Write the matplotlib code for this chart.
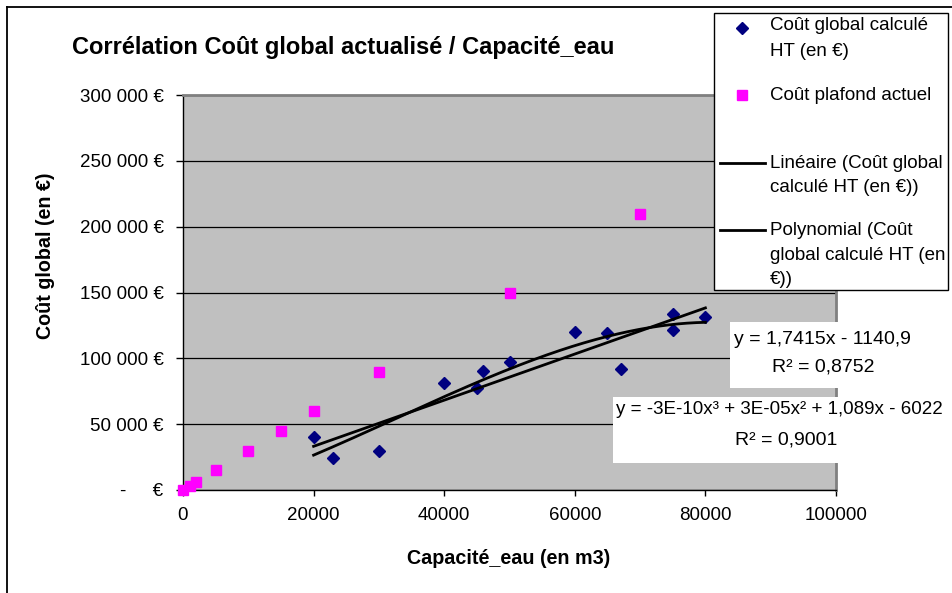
import numpy as np
import matplotlib
matplotlib.use("Agg")
import matplotlib.pyplot as plt
from matplotlib.lines import Line2D
from matplotlib.patches import Rectangle
from matplotlib.ticker import FuncFormatter

plt.rcParams['font.family'] = ['Liberation Sans', 'DejaVu Sans']

# ---- data ----
capacite_calc = [20000, 23000, 30000, 40000, 45000, 46000, 50000, 60000, 65000, 67000, 75000, 75000, 80000]
cout_global = [40500, 24100, 29600, 81500, 77300, 90700, 97500, 120300, 119500, 92200, 133700, 121600, 131700]

capacite_plafond = [0, 1000, 2000, 5000, 10000, 15000, 20000, 30000, 50000, 70000]
cout_plafond = [0, 3000, 6000, 15000, 30000, 45000, 60000, 90000, 150000, 210000]

y_ticks = [0, 50000, 100000, 150000, 200000, 250000, 300000]
x_ticks = [0, 20000, 40000, 60000, 80000, 100000]

title = "Corrélation Coût global actualisé / Capacité_eau"
xlabel = "Capacité_eau (en m3)"
ylabel = "Coût global (en €)"
eq_lin = ["y = 1,7415x - 1140,9", "R² = 0,8752"]
eq_poly = ["y = -3E-10x³ + 3E-05x² + 1,089x - 6022", "R² = 0,9001"]

W, H = 952, 593
fig = plt.figure(figsize=(W / 100, H / 100), dpi=100)
fig.patch.set_facecolor('white')

def fx(p):
    return p / W

def fy(p):
    return 1 - p / H

L, R, T, B = 183, 836, 95, 490
ax = fig.add_axes([fx(L), fy(B), fx(R) - fx(L), fy(T) - fy(B)])
ax.set_facecolor('#C0C0C0')
ax.set_xlim(0, 100000)
ax.set_ylim(0, 300000)
ax.set_xticks(x_ticks)
ax.set_yticks(y_ticks)

def yfmt(v, pos):
    if v == 0:
        return "-     €"
    return f"{v:,.0f}".replace(",", " ") + " €"

ax.yaxis.set_major_formatter(FuncFormatter(yfmt))
ax.xaxis.set_major_formatter(FuncFormatter(lambda v, p: f"{v:.0f}"))
ax.tick_params(axis='y', direction='out', length=5, width=1, pad=9, labelsize=13.5, colors='black')
ax.tick_params(axis='x', direction='out', length=4.5, width=1, pad=8, labelsize=13.5, colors='black')
ax.grid(axis='y', color='black', linewidth=0.9)
ax.set_axisbelow(True)
for s in ['left', 'bottom']:
    ax.spines[s].set_color('black')
    ax.spines[s].set_linewidth(1.0)
for s in ['top', 'right']:
    ax.spines[s].set_color('#808080')
    ax.spines[s].set_linewidth(2.0)

# data points
ax.plot(capacite_plafond, cout_plafond, linestyle='none', marker='s', ms=7,
        color='#FF00FF', mec='#FF00FF', clip_on=False, zorder=3)
ax.plot(capacite_calc, cout_global, linestyle='none', marker='D', ms=6,
        color='#000080', mec='#000080', clip_on=False, zorder=3)

# trendlines
xc = np.array(capacite_calc, dtype=float)
yc = np.array(cout_global, dtype=float)
xs = np.linspace(xc.min(), xc.max(), 300)
p1 = np.polyfit(xc, yc, 1)
p3 = np.polyfit(xc, yc, 3)
ax.plot(xs, np.polyval(p1, xs), color='black', lw=2.0, zorder=4)
ax.plot(xs, np.polyval(p3, xs), color='black', lw=2.0, zorder=4)

# titles
fig.text(fx(72), fy(54), title, fontsize=17, fontweight='bold', ha='left', va='baseline')
fig.text(fx(509), fy(558), xlabel, fontsize=14.2, fontweight='bold', ha='center', va='center')
fig.text(fx(46), fy(256), ylabel, fontsize=14.2, fontweight='bold', ha='center', va='center', rotation=90)

# outer frame (left and top visible)
fig.add_artist(Line2D([fx(7), fx(7)], [fy(7), 0], transform=fig.transFigure, color='black', lw=1.3))
fig.add_artist(Line2D([fx(7), 1], [fy(7), fy(7)], transform=fig.transFigure, color='black', lw=1.3))

# equation boxes
fig.add_artist(Rectangle((fx(730), fy(388)), fx(950) - fx(730), fy(322) - fy(388),
                         transform=fig.transFigure, facecolor='white', edgecolor='none', zorder=5))
fig.add_artist(Rectangle((fx(613), fy(463)), fx(950) - fx(613), fy(397) - fy(463),
                         transform=fig.transFigure, facecolor='white', edgecolor='none', zorder=5))
fig.text(fx(822), fy(340), eq_lin[0], fontsize=14, ha='center', va='center', zorder=6)
fig.text(fx(823), fy(367), eq_lin[1], fontsize=14, ha='center', va='center', zorder=6)
fig.text(fx(616), fy(410), eq_poly[0], fontsize=13.5, ha='left', va='center', zorder=6)
fig.text(fx(786), fy(440), eq_poly[1], fontsize=14, ha='center', va='center', zorder=6)

# legend (drawn as a framed box)
fig.add_artist(Rectangle((fx(714), fy(290)), fx(948) - fx(714), fy(13) - fy(290),
                         transform=fig.transFigure, facecolor='white', edgecolor='black', lw=1.0, zorder=5))
fig.add_artist(Line2D([fx(742)], [fy(28)], transform=fig.transFigure, marker='D', ms=6,
                      color='#000080', linestyle='none', zorder=6))
fig.add_artist(Line2D([fx(742)], [fy(95)], transform=fig.transFigure, marker='s', ms=7,
                      color='#FF00FF', linestyle='none', zorder=6))
fig.add_artist(Line2D([fx(720), fx(765)], [fy(163), fy(163)], transform=fig.transFigure,
                      color='black', lw=2.0, zorder=6))
fig.add_artist(Line2D([fx(720), fx(765)], [fy(230), fy(230)], transform=fig.transFigure,
                      color='black', lw=2.0, zorder=6))
legend_lines = [
    ("Coût global calculé", 26), ("HT (en €)", 52),
    ("Coût plafond actuel", 95),
    ("Linéaire (Coût global", 163), ("calculé HT (en €))", 188),
    ("Polynomial (Coût", 230), ("global calculé HT (en", 256), ("€))", 280),
]
for txt, yy in legend_lines:
    fig.text(fx(770), fy(yy), txt, fontsize=13.5, ha='left', va='center', zorder=6)

fig.savefig("out.png", dpi=100)
